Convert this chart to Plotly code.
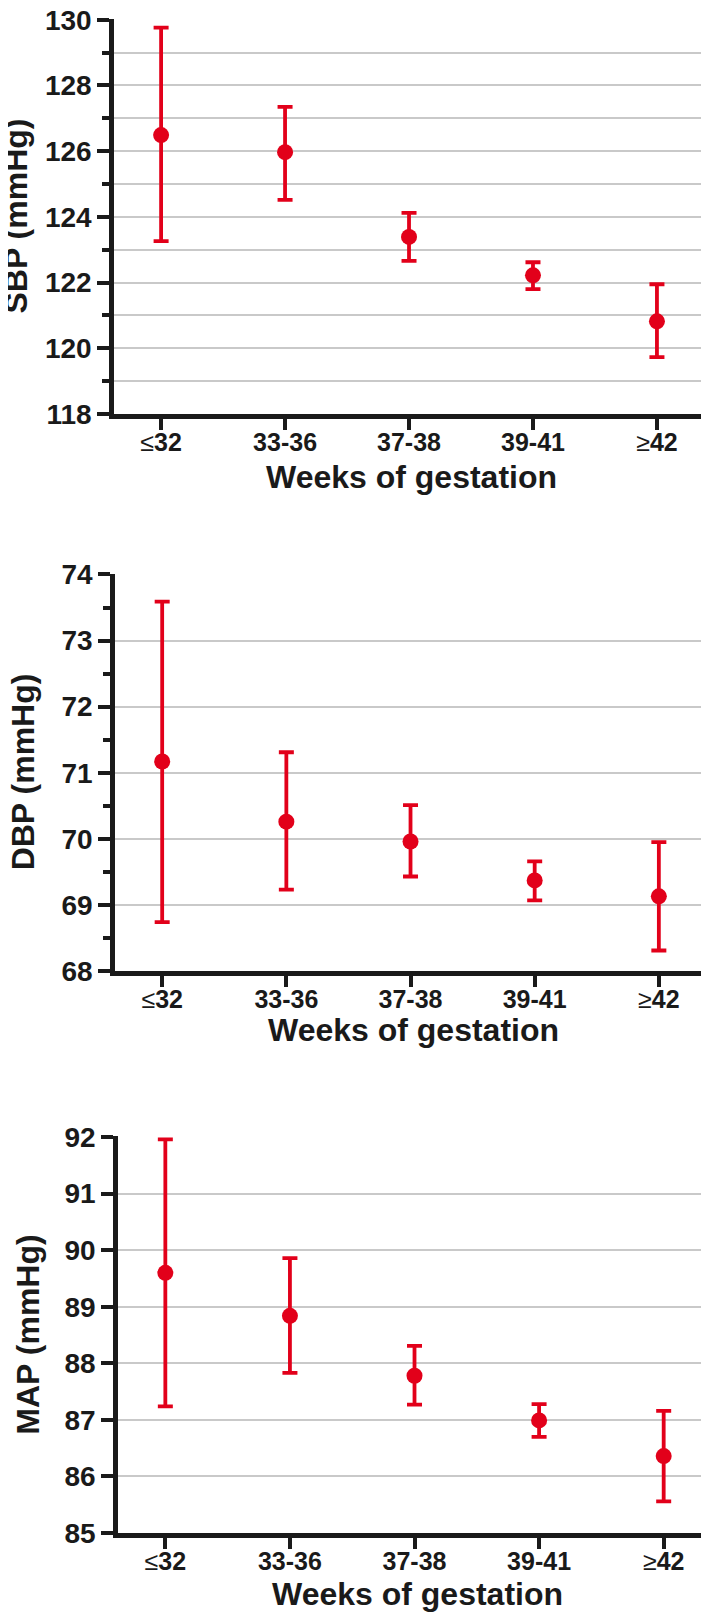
import plotly.graph_objects as go

W, H = 709, 1614

categories = ["≤32", "33-36", "37-38", "39-41", "≥42"]
tick_text = ['<span style="font-weight:normal">≤</span>32', "33-36", "37-38", "39-41",
             '<span style="font-weight:normal">≥</span>42']

sbp_mean = [126.49, 125.97, 123.39, 122.22, 120.82]
sbp_upper = [129.76, 127.35, 124.12, 122.62, 121.95]
sbp_lower = [123.26, 124.52, 122.66, 121.80, 119.73]

dbp_mean = [71.17, 70.26, 69.96, 69.37, 69.13]
dbp_upper = [73.59, 71.31, 70.51, 69.66, 69.95]
dbp_lower = [68.74, 69.23, 69.43, 69.07, 68.31]

map_mean = [89.60, 88.84, 87.78, 86.99, 86.36]
map_upper = [91.96, 89.86, 88.31, 87.28, 87.16]
map_lower = [87.24, 87.83, 87.27, 86.70, 85.56]

RED = "#e2001a"
INK = "#1a1a1a"
FONT = "Liberation Sans, Arial, Helvetica, sans-serif"

panels = [
    dict(mean=sbp_mean, up=sbp_upper, lo=sbp_lower, yr=[118, 130], dtick=2, minor=1, minorgrid=True,
         xd=[106, 701], yd=[11, 406], ytitle="SBP (mmHg)", ytx=7, xtcy=469),
    dict(mean=dbp_mean, up=dbp_upper, lo=dbp_lower, yr=[68, 74], dtick=1, minor=0.5, minorgrid=False,
         xd=[107, 703], yd=[565.7, 963], ytitle="DBP (mmHg)", ytx=15, xtcy=1022),
    dict(mean=map_mean, up=map_upper, lo=map_lower, yr=[85, 92], dtick=1, minor=None, minorgrid=False,
         xd=[110, 708], yd=[1128.3, 1525], ytitle="MAP (mmHg)", ytx=20, xtcy=1586),
]

fig = go.Figure()
annotations = []
xs = list(range(len(categories)))
for i, p in enumerate(panels, start=1):
    xa = "x" if i == 1 else f"x{i}"
    ya = "y" if i == 1 else f"y{i}"
    fig.add_trace(go.Scatter(
        x=xs, y=p["mean"], mode="markers", xaxis=xa, yaxis=ya,
        marker=dict(color=RED, size=16),
        error_y=dict(type="data", symmetric=False,
                     array=[u - m for u, m in zip(p["up"], p["mean"])],
                     arrayminus=[m - l for m, l in zip(p["mean"], p["lo"])],
                     color=RED, thickness=3.8, width=7.5),
        showlegend=False, cliponaxis=False,
    ))
    xdom = [p["xd"][0] / W, p["xd"][1] / W]
    ydom = [1 - p["yd"][1] / H, 1 - p["yd"][0] / H]
    xkey = "xaxis" if i == 1 else f"xaxis{i}"
    ykey = "yaxis" if i == 1 else f"yaxis{i}"
    span = p["yr"][1] - p["yr"][0]
    yaxis = dict(
        domain=ydom, range=[p["yr"][0], p["yr"][1] + span * 0.002], dtick=p["dtick"],
        tick0=p["yr"][0], anchor=xa,
        showline=True, linecolor=INK, linewidth=4.5,
        ticks="outside", ticklen=12, tickwidth=3.5, tickcolor=INK,
        tickfont=dict(family=FONT, size=28, color=INK, weight="bold"),
        ticklabeloverflow="allow",
        showgrid=True, gridcolor="#c9c9c9", gridwidth=1.5, zeroline=False,
        fixedrange=True,
    )
    if p["minor"] is not None:
        yaxis["minor"] = dict(dtick=p["minor"], tick0=p["yr"][0], ticks="outside", ticklen=7,
                              tickwidth=3.5, tickcolor=INK,
                              showgrid=p["minorgrid"], gridcolor="#c9c9c9", gridwidth=1.5)
    fig.layout[ykey] = yaxis
    fig.layout[xkey] = dict(
        domain=xdom, range=[-0.38, 4.42], anchor=ya,
        tickmode="array", tickvals=xs, ticktext=tick_text,
        showline=True, linecolor=INK, linewidth=4.5,
        ticks="outside", ticklen=11, tickwidth=3.5, tickcolor=INK,
        tickfont=dict(family=FONT, size=25, color=INK, weight="bold"),
        ticklabelstandoff=-9, ticklabeloverflow="allow",
        showgrid=False, zeroline=False, fixedrange=True,
    )
    annotations.append(dict(
        text=p["ytitle"], xref="paper", yref="paper", x=p["ytx"] / W,
        y=(ydom[0] + ydom[1]) / 2, xanchor="center", yanchor="middle",
        textangle=-90, showarrow=False,
        font=dict(family=FONT, size=32, color=INK, weight="bold"),
    ))
    annotations.append(dict(
        text="Weeks of gestation", xref="paper", yref="paper",
        x=(xdom[0] + xdom[1]) / 2, y=1 - p["xtcy"] / H, xanchor="center", yanchor="middle",
        showarrow=False,
        font=dict(family=FONT, size=32, color=INK, weight="bold"),
    ))

fig.update_layout(
    width=W, height=H, margin=dict(l=0, r=0, t=0, b=0, autoexpand=False),
    paper_bgcolor="white", plot_bgcolor="white",
    annotations=annotations,
)

fig.write_html("out.html")
